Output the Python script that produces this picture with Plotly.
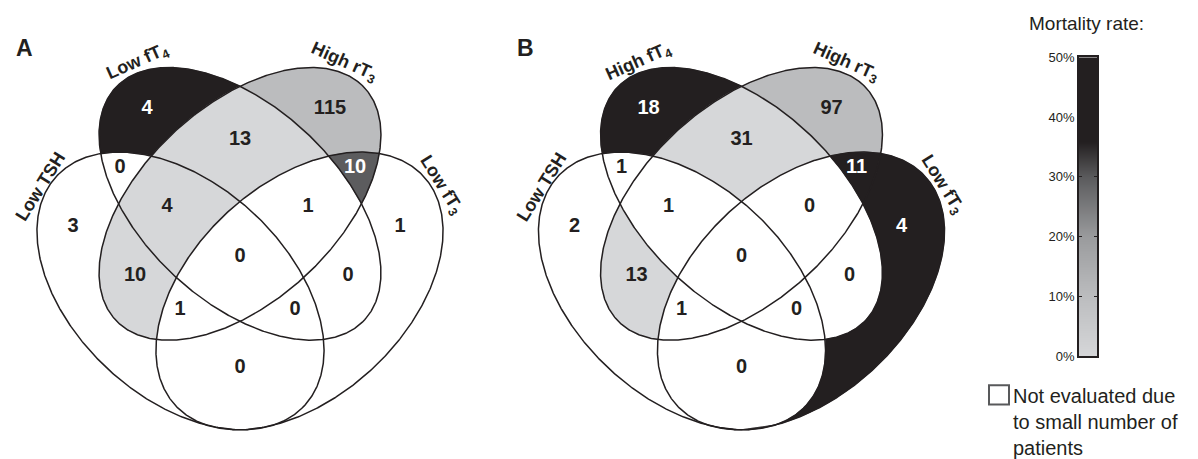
import numpy as np
import plotly.graph_objects as go

# ---------------- data ----------------
PANEL_LETTERS = ["A", "B"]
SETS_A = ["Low TSH", "Low fT<sub>4</sub>", "High rT<sub>3</sub>", "Low fT<sub>3</sub>"]
SETS_B = ["Low TSH", "High fT<sub>4</sub>", "High rT<sub>3</sub>", "Low fT<sub>3</sub>"]
# region keys: digits = the sets (1-based) a region belongs to
REGIONS = ["2", "3", "23", "12", "34", "1", "123", "234", "4", "1234", "13", "24", "134", "124", "14"]
COUNTS_A = [4, 115, 13, 0, 10, 3, 4, 1, 1, 0, 10, 0, 1, 0, 0]
COUNTS_B = [18, 97, 31, 1, 11, 2, 1, 0, 4, 0, 13, 0, 1, 0, 0]
# mortality rate (%) read from the shading; None = not evaluated (white)
MORT_A = [50, 10.4, 0, None, 30, None, 0, None, None, None, 0, None, None, None, None]
MORT_B = [50, 10.3, 0, None, 45, None, None, None, 50, None, 0, None, None, None, None]
CBAR_TICKS = [0, 10, 20, 30, 40, 50]
CBAR_TITLE = "Mortality rate:"
LEGEND_TEXT = "Not evaluated due<br>to small number of<br>patients"

# ---------------- layout / style constants ----------------
W, H = 1198, 459
PANEL_DX = [0.0, 501.5]
INK = "#231f20"
FONT = "Liberation Sans, Arial, Helvetica, sans-serif"
ELLIPSES = [  # cx, cy, semi-major, semi-minor, major-axis direction (screen coords, y down)
    (180.5, 293.5, 171.6, 108.5, (1, 1)),
    (240.0, 203.5, 173.0, 99.0, (1, 1)),
    (240.0, 203.5, 173.0, 99.0, (1, -1)),
    (299.5, 293.5, 171.6, 108.5, (1, -1)),
]
REGION_LABEL_POS = {
    "2": (147, 105), "3": (330, 105), "23": (240, 138), "12": (120, 166),
    "34": (355, 166), "1": (73, 227), "123": (167, 207), "234": (308, 207),
    "4": (400, 227), "1234": (240, 258), "13": (135, 278), "24": (348, 278),
    "134": (180, 313), "124": (295, 313), "14": (240, 373),
}
SET_LABEL_POS = [(40, 186, -58), (137, 57, -24), (344, 57, 24), (440, 184, 58)]
GRAY_STOPS = [(0.0, (214, 215, 217)), (0.2, (188, 189, 191)), (0.4, (154, 155, 157)),
              (0.6, (92, 92, 94)), (0.72, (35, 31, 32)), (1.0, (35, 31, 32))]
CBAR_BOX = (1079, 1097, 52, 361)   # x0, x1, y0(top), y1(bottom) in px


def rgb_str(c):
    return "rgb(%d,%d,%d)" % tuple(int(round(v)) for v in c)


def gray_for(rate):
    f = min(max(rate / CBAR_TICKS[-1], 0), 1)
    for (f0, c0), (f1, c1) in zip(GRAY_STOPS[:-1], GRAY_STOPS[1:]):
        if f <= f1:
            t = 0 if f1 == f0 else (f - f0) / (f1 - f0)
            return tuple(a + (b - a) * t for a, b in zip(c0, c1))
    return GRAY_STOPS[-1][1]


def ell_basis(e):
    cx, cy, a, b, d = e
    n = np.hypot(*d)
    ux, uy = d[0] / n, d[1] / n
    return cx, cy, a, b, ux, uy, -uy, ux


def ell_points(e, dx=0.0, n=2400):
    cx, cy, a, b, ux, uy, wx, wy = ell_basis(e)
    t = np.linspace(0, 2 * np.pi, n, endpoint=False)
    x = cx + dx + a * np.cos(t) * ux + b * np.sin(t) * wx
    y = cy + a * np.cos(t) * uy + b * np.sin(t) * wy
    return x, y


def ell_val(e, x, y, dx=0.0):
    cx, cy, a, b, ux, uy, wx, wy = ell_basis(e)
    rx, ry = x - cx - dx, y - cy
    return ((rx * ux + ry * uy) / a) ** 2 + ((rx * wx + ry * wy) / b) ** 2


def region_polygon(members, dx):
    arcs = []
    for k, e in enumerate(ELLIPSES):
        x, y = ell_points(e, dx)
        ok = np.ones(len(x), bool)
        for j, f in enumerate(ELLIPSES):
            if j == k:
                continue
            v = ell_val(f, x, y, dx)
            ok &= (v <= 1) if (j + 1) in members else (v >= 1)
        if not ok.any():
            continue
        if ok.all():
            arcs.append(np.c_[x, y])
            continue
        i0 = int(np.argmin(ok))
        idx = np.roll(np.arange(len(x)), -i0)
        okr = ok[idx]
        run = []
        for i, flag in zip(idx, okr):
            if flag:
                run.append(i)
            elif run:
                arcs.append(np.c_[x[run], y[run]])
                run = []
        if run:
            arcs.append(np.c_[x[run], y[run]])
    poly = arcs.pop(0)
    while arcs:
        end = poly[-1]
        best, rev, bd = 0, False, 1e18
        for i, a in enumerate(arcs):
            d0 = np.hypot(*(a[0] - end))
            d1 = np.hypot(*(a[-1] - end))
            if d0 < bd:
                best, rev, bd = i, False, d0
            if d1 < bd:
                best, rev, bd = i, True, d1
        a = arcs.pop(best)
        poly = np.vstack([poly, a[::-1] if rev else a])
    return np.vstack([poly, poly[:1]])


fig = go.Figure()
annotations = []

for p, (letter, sets, counts, morts) in enumerate(zip(
        PANEL_LETTERS, [SETS_A, SETS_B], [COUNTS_A, COUNTS_B], [MORT_A, MORT_B])):
    dx = PANEL_DX[p]
    # shaded regions
    for reg, rate in zip(REGIONS, morts):
        if rate is None:
            continue
        members = {int(c) for c in reg}
        poly = region_polygon(members, dx)
        col = rgb_str(gray_for(rate))
        fig.add_trace(go.Scatter(x=poly[:, 0], y=poly[:, 1], mode="lines", fill="toself",
                                 fillcolor=col, line=dict(width=0.6, color=col),
                                 hoverinfo="skip", showlegend=False))
    # outlines
    for e in ELLIPSES:
        x, y = ell_points(e, dx, 720)
        fig.add_trace(go.Scatter(x=np.r_[x, x[:1]], y=np.r_[y, y[:1]], mode="lines",
                                 line=dict(color=INK, width=1.5), hoverinfo="skip",
                                 showlegend=False))
    # counts
    xs, ys, txt, cols = [], [], [], []
    for reg, n, rate in zip(REGIONS, counts, morts):
        lx, ly = REGION_LABEL_POS[reg]
        xs.append(lx + dx)
        ys.append(ly)
        txt.append("<b>%d</b>" % n)
        dark = rate is not None and sum(gray_for(rate)) / 3 < 120
        cols.append("white" if dark else INK)
    fig.add_trace(go.Scatter(x=xs, y=ys, mode="text", text=txt,
                             textfont=dict(family=FONT, size=20, color=cols),
                             hoverinfo="skip", showlegend=False))
    # set labels
    for name, (lx, ly, ang) in zip(sets, SET_LABEL_POS):
        annotations.append(dict(x=lx + dx, y=ly, xref="x", yref="y", text="<b>%s</b>" % name,
                                showarrow=False, textangle=ang,
                                font=dict(family=FONT, size=18, color=INK)))
    annotations.append(dict(x=24 + dx, y=42, xref="x", yref="y", text="<b>%s</b>" % letter,
                            showarrow=False, font=dict(family=FONT, size=23, color=INK)))

# colour bar drawn as a heatmap on its own axes
stops = [[f, rgb_str(c)] for f, c in GRAY_STOPS]
fig.add_trace(go.Heatmap(x=[0, 1], y=CBAR_TICKS, z=[[v, v] for v in CBAR_TICKS],
                         zmin=CBAR_TICKS[0], zmax=CBAR_TICKS[-1], colorscale=stops,
                         zsmooth="best", showscale=False, hoverinfo="skip",
                         xaxis="x2", yaxis="y2"))

annotations.append(dict(x=1086, y=17, xref="x", yref="y", text=CBAR_TITLE, showarrow=False,
                        font=dict(family=FONT, size=19, color=INK)))
annotations.append(dict(x=1011, y=389, xref="x", yref="y", text=LEGEND_TEXT, showarrow=False,
                        xanchor="left", yanchor="top", align="left",
                        font=dict(family=FONT, size=20, color=INK)))

cx0, cx1, cy0, cy1 = CBAR_BOX
fig.update_layout(
    width=W, height=H, margin=dict(l=0, r=0, t=0, b=0),
    paper_bgcolor="white", plot_bgcolor="rgba(0,0,0,0)",
    xaxis=dict(range=[0, W], visible=False, domain=[0, 1], fixedrange=True),
    yaxis=dict(range=[H, 0], visible=False, domain=[0, 1], fixedrange=True),
    xaxis2=dict(domain=[cx0 / W, cx1 / W], range=[0, 1], anchor="y2", fixedrange=True,
                showticklabels=False, ticks="", showgrid=False, zeroline=False,
                showline=True, linecolor=INK, linewidth=1.5, mirror=True),
    yaxis2=dict(domain=[1 - cy1 / H, 1 - cy0 / H], range=[CBAR_TICKS[0], CBAR_TICKS[-1]],
                anchor="x2", side="left", tickvals=CBAR_TICKS, fixedrange=True,
                ticktext=["%d%%" % v for v in CBAR_TICKS], ticks="inside",
                ticklen=3, tickcolor=INK, mirror="allticks", showline=True,
                linecolor=INK, linewidth=1.5, showgrid=False, zeroline=False,
                tickfont=dict(family=FONT, size=13, color=INK)),
    shapes=[dict(type="rect", xref="x", yref="y", x0=989, x1=1009, y0=391, y1=411,
                 line=dict(color="#58595b", width=2), fillcolor="white")],
    annotations=annotations,
    showlegend=False,
)

fig.write_html("out.html", config={"displayModeBar": False},
               post_script="document.body.style.margin='0px';")
